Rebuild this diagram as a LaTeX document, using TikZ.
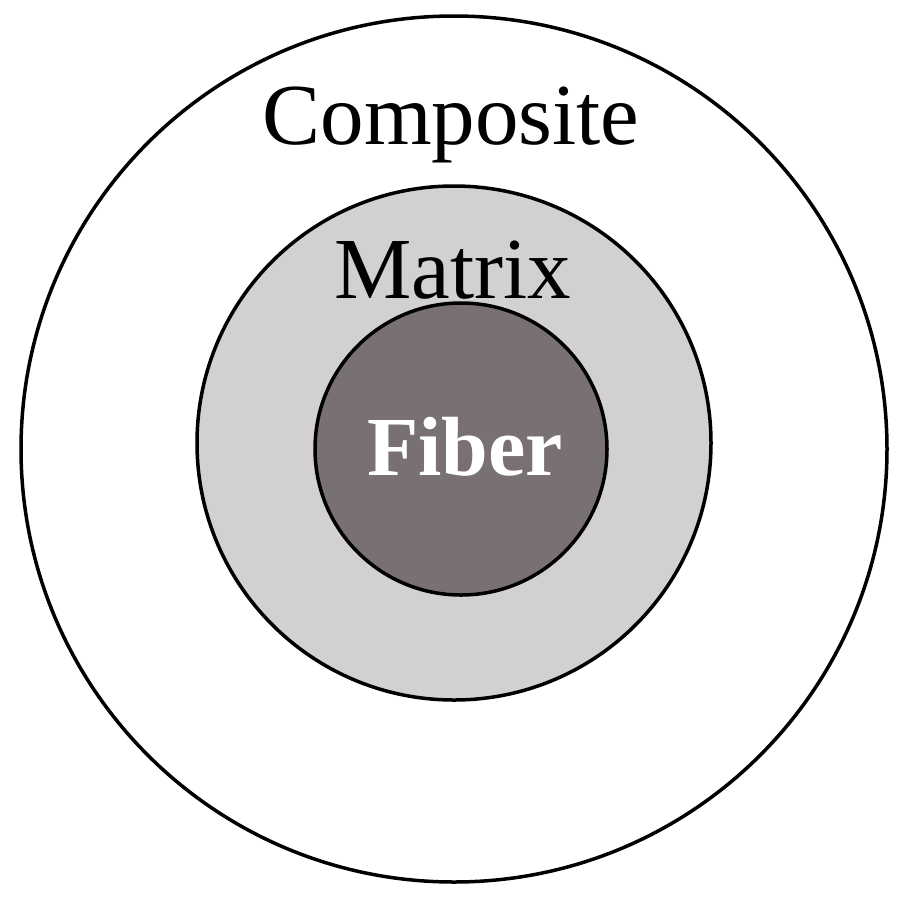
\documentclass[tikz,border=0pt]{standalone}
\usepackage{fontspec}
\setmainfont{Liberation Serif}
\definecolor{matrixgray}{RGB}{210,208,210}
\definecolor{fibergray}{RGB}{120,112,114}
\begin{document}
\begin{tikzpicture}[x=1pt,y=-1pt,
  ring/.style={circle,draw=black,line width=3.5pt,inner sep=0pt},
  lab/.style={font=\fontsize{87}{87}\selectfont,inner sep=0pt}]
\useasboundingbox[fill=white] (0,0) rectangle (913,898);
\node[ring,minimum size=866pt] (composite) at (454,449) {};
\node[ring,fill=matrixgray,minimum size=514pt] (matrix) at (454,443) {};
\node[ring,fill=fibergray,minimum size=292pt] (fiber) at (461,449) {};
\node[lab] (tc) at (451,125) {Composite};
\node[lab] (tm) at (453,270) {Matrix};
\node[lab,font=\fontsize{84}{84}\selectfont\bfseries,text=white] (tf) at (465,447) {Fiber};
\end{tikzpicture}
\end{document}
